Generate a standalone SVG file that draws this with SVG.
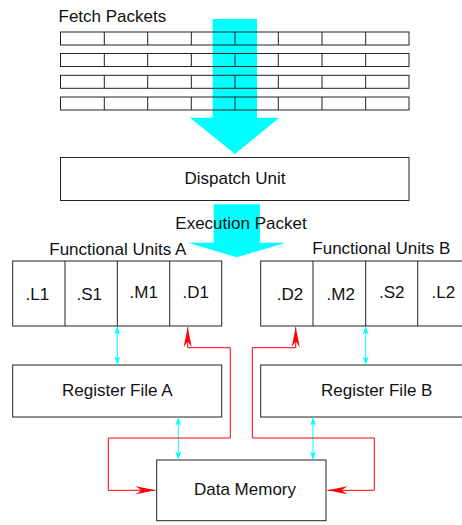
<svg xmlns="http://www.w3.org/2000/svg" width="462" height="525" viewBox="0 0 462 525">
<defs>
<style>
.box{fill:none;stroke:#222;stroke-width:1}
.bg{fill:#fff;stroke:#222;stroke-width:1}
.t{font-family:"Liberation Sans",Arial,sans-serif;font-size:17px;fill:#111;text-anchor:middle}
.red{fill:none;stroke:#ff0000;stroke-width:1}
.cy{fill:none;stroke:#00ffff;stroke-width:1}
</style>
<marker id="ra" markerUnits="userSpaceOnUse" markerWidth="24" markerHeight="12" viewBox="-21 -6 22 12" refX="0" refY="0" orient="auto-start-reverse">
<path d="M0,0 L-20,-4 L-14,0 L-20,4 Z" fill="#ff0000"/>
</marker>
<marker id="ca" markerUnits="userSpaceOnUse" markerWidth="10" markerHeight="8" viewBox="-9 -4 10 8" refX="0" refY="0" orient="auto-start-reverse">
<path d="M0,0 L-8,-3 L-6,0 L-8,3 Z" fill="#00ffff"/>
</marker>
</defs>
<rect width="462" height="525" fill="#fff"/>

<g id="fetch-arrow">
<polygon points="212.7,19 257,19 257,117.7 279.3,117.7 235,154 190,117.7 212.7,117.7" fill="#00ffff"/>
</g>

<g id="fetch-packets">
<text class="t" x="58.5" y="21.7" style="text-anchor:start">Fetch Packets</text>
<g class="box">
<rect x="60.5" y="32" width="348.5" height="13"/>
<rect x="60.5" y="53.5" width="348.5" height="13"/>
<rect x="60.5" y="75.3" width="348.5" height="13"/>
<rect x="60.5" y="97" width="348.5" height="13"/>
<path d="M104.3,32v13M147.7,32v13M191.3,32v13M235,32v13M278.3,32v13M322,32v13M365.7,32v13
M104.3,53.5v13M147.7,53.5v13M191.3,53.5v13M235,53.5v13M278.3,53.5v13M322,53.5v13M365.7,53.5v13
M104.3,75.3v13M147.7,75.3v13M191.3,75.3v13M235,75.3v13M278.3,75.3v13M322,75.3v13M365.7,75.3v13
M104.3,97v13M147.7,97v13M191.3,97v13M235,97v13M278.3,97v13M322,97v13M365.7,97v13"/>
</g>
</g>

<g id="dispatch-unit">
<rect class="bg" x="60.5" y="157.5" width="348.5" height="43"/>
<text class="t" x="235" y="184">Dispatch Unit</text>
</g>

<g id="execution-arrow">
<polygon points="213.7,204.3 260,204.3 260,242.7 285.7,242.7 236.7,257.3 188,242.7 213.7,242.7" fill="#00ffff"/>
<text class="t" x="241" y="229">Execution Packet</text>
</g>

<g id="functional-units-a">
<text class="t" x="117.8" y="254.5">Functional Units A</text>
<rect class="bg" x="12.7" y="261" width="209" height="65"/>
<path class="box" d="M65,261v65M117.3,261v65M169.7,261v65"/>
<text class="t" x="37.3" y="299.5">.L1</text>
<text class="t" x="89.3" y="299.5">.S1</text>
<text class="t" x="143.7" y="298">.M1</text>
<text class="t" x="195.7" y="298">.D1</text>
</g>

<g id="functional-units-b">
<text class="t" x="381.3" y="254">Functional Units B</text>
<rect class="bg" x="260.7" y="261" width="209.3" height="65"/>
<path class="box" d="M313,261v65M365.7,261v65M417.7,261v65"/>
<text class="t" x="290" y="299.5">.D2</text>
<text class="t" x="340.7" y="299.5">.M2</text>
<text class="t" x="391.7" y="298">.S2</text>
<text class="t" x="443.3" y="298">.L2</text>
</g>

<g id="register-file-a">
<rect class="bg" x="12.7" y="365" width="209" height="52"/>
<text class="t" x="117.3" y="395.5">Register File A</text>
</g>

<g id="register-file-b">
<rect class="bg" x="260.7" y="365" width="209.3" height="52"/>
<text class="t" x="376.7" y="395.5">Register File B</text>
</g>

<g id="data-memory">
<rect class="bg" x="156.7" y="460" width="169.3" height="60.7"/>
<text class="t" x="245" y="494.5">Data Memory</text>
</g>

<g id="connectors">
<line class="cy" x1="117.3" y1="326.5" x2="117.3" y2="364.5" marker-start="url(#ca)" marker-end="url(#ca)"/>
<line class="cy" x1="365.7" y1="326.5" x2="365.7" y2="364.5" marker-start="url(#ca)" marker-end="url(#ca)"/>
<line class="cy" x1="178.3" y1="417.5" x2="178.3" y2="459.5" marker-start="url(#ca)" marker-end="url(#ca)"/>
<line class="cy" x1="313" y1="417.5" x2="313" y2="459.5" marker-start="url(#ca)" marker-end="url(#ca)"/>
<polyline class="red" points="187.7,327.3 187.7,347.7 230.3,347.7 230.3,438 108.3,438 108.3,490.3 155.5,490.3" marker-start="url(#ra)" marker-end="url(#ra)"/>
<polyline class="red" points="295.7,327.3 295.7,347.7 252.3,347.7 252.3,438 374.3,438 374.3,490.3 327.5,490.3" marker-start="url(#ra)" marker-end="url(#ra)"/>
</g>
</svg>
